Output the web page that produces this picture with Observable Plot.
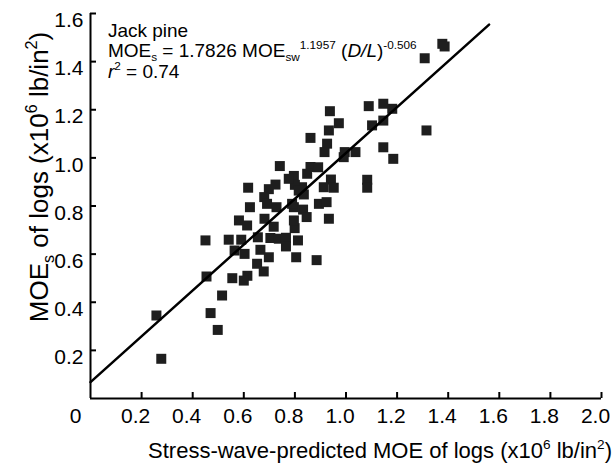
<!DOCTYPE html>
<html><head><meta charset="utf-8">
<script src="https://cdn.jsdelivr.net/npm/d3@7"></script>
<script src="https://cdn.jsdelivr.net/npm/@observablehq/plot@0.6"></script>
<style>
body{margin:0;background:#fff}
#chart svg{font-family:Arial,"Liberation Sans",sans-serif;display:block}
</style>
</head><body><div id="chart"></div>
<script>
// Stress-wave-predicted MOE (x10^6 lb/in^2)
const predictedMOE = [1.377,1.386,1.308,1.315,1.146,1.181,1.146,1.146,1.185,1.089,1.102,0.937,0.972,0.933,0.861,0.926,0.916,0.995,1.037,0.991,1.083,1.083,0.861,0.891,0.848,0.941,0.913,0.952,0.828,0.835,0.894,0.924,0.741,0.796,0.617,0.724,0.698,0.800,0.815,0.680,0.691,0.624,0.728,0.796,0.832,0.846,0.681,0.581,0.613,0.717,0.799,0.933,0.450,0.541,0.590,0.655,0.704,0.737,0.765,0.812,0.564,0.603,0.665,0.698,0.765,0.805,0.885,0.652,0.678,0.555,0.614,0.454,0.258,0.277,0.600,0.515,0.470,0.498,0.776,0.789,0.796];
// Measured static MOE of logs (x10^6 lb/in^2)
const measuredMOE = [1.474,1.463,1.414,1.114,1.225,1.204,1.155,1.044,0.996,1.215,1.135,1.194,1.144,1.114,1.083,1.059,1.024,1.024,1.024,1.003,0.909,0.876,0.962,0.961,0.934,0.910,0.878,0.876,0.878,0.848,0.809,0.816,0.966,0.925,0.876,0.889,0.870,0.888,0.864,0.837,0.809,0.795,0.795,0.795,0.785,0.754,0.747,0.740,0.719,0.714,0.708,0.747,0.657,0.660,0.660,0.670,0.667,0.664,0.668,0.657,0.615,0.601,0.618,0.587,0.632,0.587,0.575,0.560,0.528,0.500,0.510,0.507,0.345,0.165,0.490,0.428,0.355,0.285,0.913,0.809,0.740];
// regression line end points
const fitX = [0, 1.56];
const fitY = [0.068, 1.554];
const xTicks = [0,0.2,0.4,0.6,0.8,1.0,1.2,1.4,1.6,1.8,2.0];
const xTickLabels = ["0","0.2","0.4","0.6","0.8","1.0","1.2","1.4","1.6","1.8","2.0"];
const yTicks = [0.2,0.4,0.6,0.8,1.0,1.2,1.4,1.6];
const yTickLabels = ["0.2","0.4","0.6","0.8","1.0","1.2","1.4","1.6"];

const points = predictedMOE.map((x,i)=>({x, y: measuredMOE[i]}));
const fit = fitX.map((x,i)=>({x, y: fitY[i]}));
const W = 616, H = 467, mL = 90, mR = 15, mT = 13, mB = 69;
const plotW = W - mL - mR, plotH = H - mT - mB;
const fs = 21;

const chart = Plot.plot({
  width: W, height: H,
  marginLeft: mL, marginRight: mR, marginTop: mT, marginBottom: mB,
  x: {domain: [0, 2], axis: null},
  y: {domain: [0, 1.6], axis: null},
  style: {background: "white", color: "black", fontFamily: "Arial, Liberation Sans, sans-serif", overflow: "visible"},
  marks: [
    Plot.dot(points, {x: "x", y: "y", symbol: "square", r: 5.64, fill: "#1e1e1e", stroke: "none"}),
    Plot.line(fit, {x: "x", y: "y", stroke: "black", strokeWidth: 2.5}),
    Plot.ruleY([0], {x1: 0, x2: 2, stroke: "black", strokeWidth: 2}),
    Plot.ruleX([0], {y1: 0, y2: 1.6, stroke: "black", strokeWidth: 2}),
    Plot.ruleX(xTicks.slice(1), {insetTop: plotH - 6, stroke: "black", strokeWidth: 2}),
    Plot.ruleY(yTicks, {insetRight: plotW - 6, stroke: "black", strokeWidth: 2}),
    Plot.text(xTicks.slice(1), {x: d => d, text: (d,i) => xTickLabels[i+1], frameAnchor: "bottom", dy: 24, dx: -6, fontSize: fs}),
    Plot.text(xTicks.slice(0,1), {x: d => d, text: (d,i) => xTickLabels[i], frameAnchor: "bottom", dy: 24, dx: -15, fontSize: fs}),
    Plot.text(yTicks, {y: d => d, text: (d,i) => yTickLabels[i], frameAnchor: "left", textAnchor: "end", dx: -7, dy: 7, fontSize: fs})
  ]
});

const svg = d3.select(chart);
const sx = chart.scale("x");

function rich(parent, parts, size) {
  let shift = 0;
  parts.forEach(p => {
    const ts = parent.append("tspan").text(p.t);
    let target = 0, fsz = size;
    if (p.sup) { target = -size * 0.42; fsz = size * 0.62; }
    if (p.sub) { target = size * 0.22; fsz = size * 0.62; }
    ts.attr("dy", target - shift).attr("font-size", fsz);
    if (p.it) ts.attr("font-style", "italic");
    shift = target;
  });
}

// axis titles
const xl = svg.append("text").attr("x", 380).attr("y", 458).attr("text-anchor", "middle").attr("font-size", 22);
rich(xl, [{t:"Stress-wave-predicted MOE of logs (x10"},{t:"6",sup:true},{t:" lb/in"},{t:"2",sup:true},{t:")"}], 22);

const yl = svg.append("text").attr("transform", `translate(48,177) rotate(-90)`).attr("text-anchor", "middle").attr("font-size", 26);
rich(yl, [{t:"MOE"},{t:"s",sub:true},{t:" of logs (x10"},{t:"6",sup:true},{t:" lb/in"},{t:"2",sup:true},{t:")"}], 26);

// annotation
const af = 19;
const ax = sx.apply(0.07);
const a1 = svg.append("text").attr("x", ax).attr("y", 37).attr("font-size", af).attr("text-anchor", "start").text("Jack pine");
const a2 = svg.append("text").attr("x", ax).attr("y", 57).attr("font-size", af).attr("text-anchor", "start");
rich(a2, [{t:"MOE"},{t:"s",sub:true},{t:" = 1.7826 MOE"},{t:"sw",sub:true},{t:"1.1957",sup:true},{t:" ("},{t:"D/L",it:true},{t:")"},{t:"-0.506",sup:true}], af);
const a3 = svg.append("text").attr("x", ax).attr("y", 78).attr("font-size", af).attr("text-anchor", "start");
rich(a3, [{t:"r",it:true},{t:"2",sup:true},{t:" = 0.74"}], af);

document.getElementById("chart").appendChild(chart);
</script>
</body></html>
